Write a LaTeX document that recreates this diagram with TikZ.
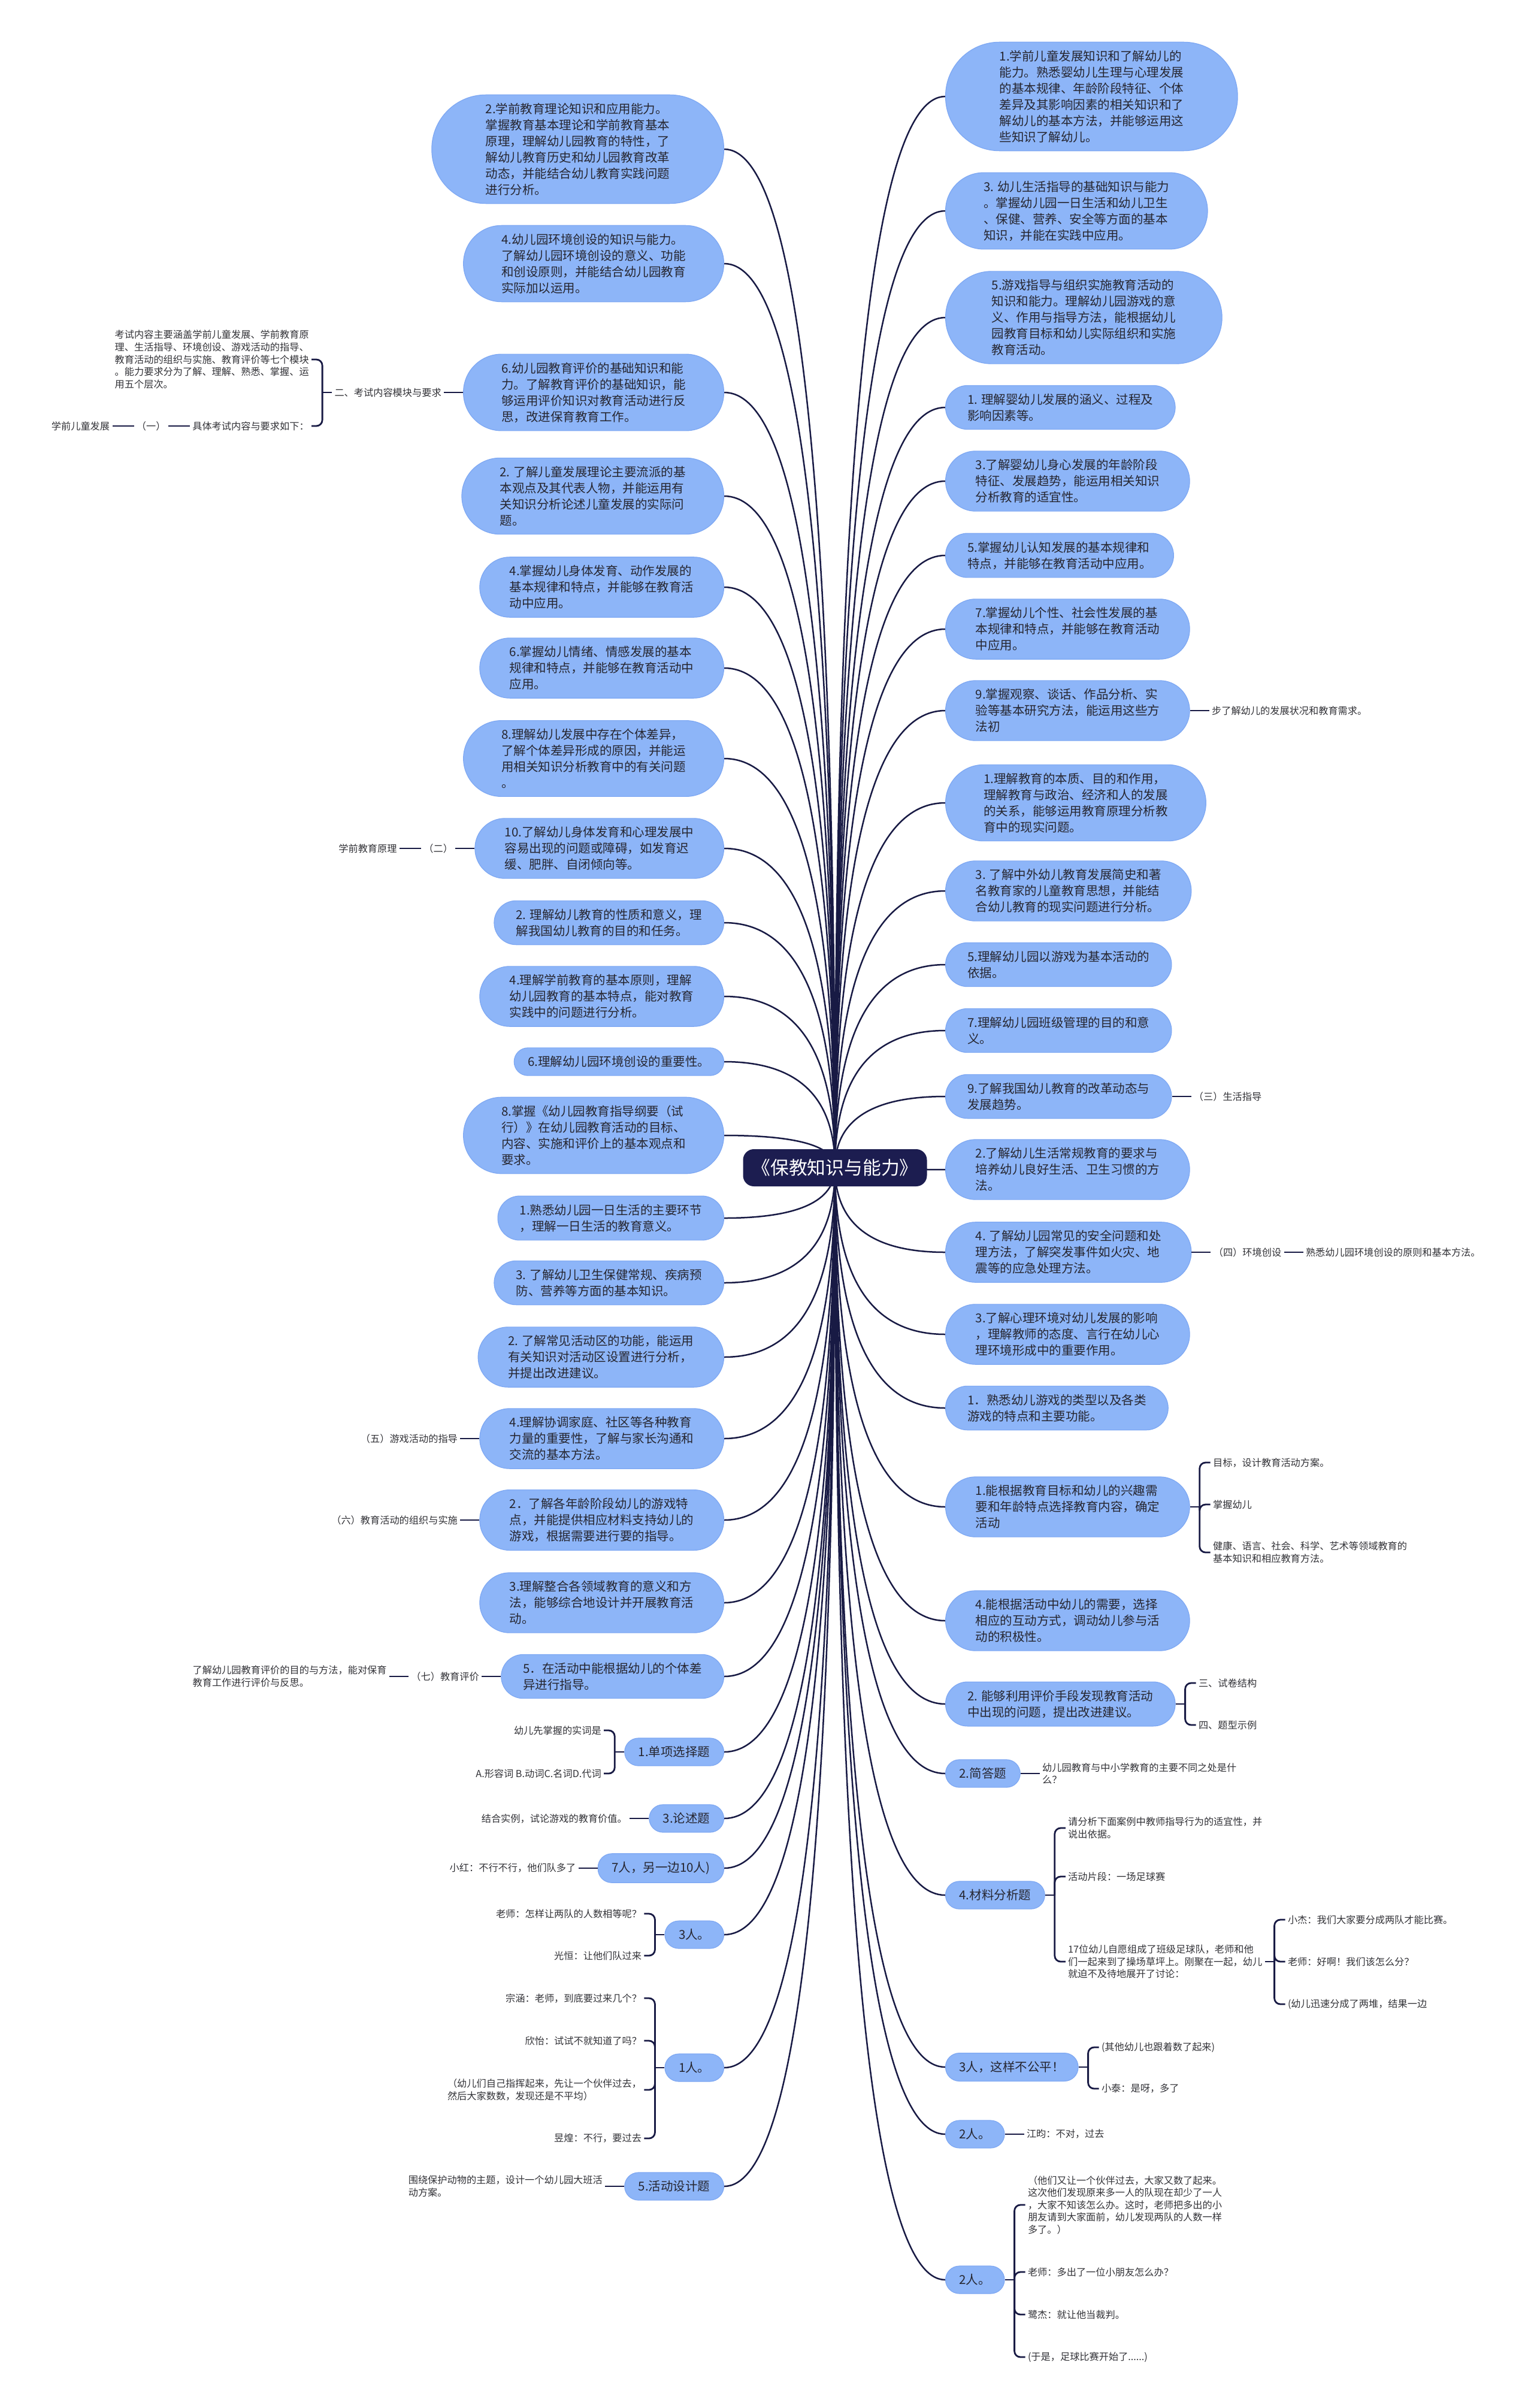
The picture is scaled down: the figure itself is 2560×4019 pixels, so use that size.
\documentclass[tikz,border=0pt]{standalone}
\usepackage{fontspec}
\setmainfont{Noto Sans CJK SC}
\usetikzlibrary{positioning,calc,backgrounds}

\definecolor{pillfill}{RGB}{141,181,248}
\definecolor{pilledge}{RGB}{126,168,243}
\definecolor{rootfill}{RGB}{28,29,80}
\definecolor{wire}{RGB}{24,26,68}
\definecolor{boxtext}{RGB}{38,38,48}
\definecolor{leaftext}{RGB}{50,50,55}

\newcommand\pillfont{\fontsize{10.25}{13.5}\selectfont}
\newcommand\leaffont{\fontsize{8.1}{10.3}\selectfont}
\newcommand\rootfont{\fontsize{15.4}{18}\selectfont}

% fork from a box to several children (bracket)
\newcommand\rfork[2]{%
  \draw[twig] (#1.east) -- ([xshift=8pt]#1.east);
  \foreach \ch in {#2}{\draw[twig, rounded corners=5pt] ([xshift=8pt]#1.east) |- (\ch.west);}}
\newcommand\lfork[2]{%
  \draw[twig] (#1.west) -- ([xshift=-8pt]#1.west);
  \foreach \ch in {#2}{\draw[twig, rounded corners=5pt] ([xshift=-8pt]#1.west) |- (\ch.east);}}

\tikzset{
  pill/.style={draw=pilledge, line width=0.6pt, fill=pillfill, text=boxtext,
    align=left, font=\pillfont, rounded corners=#1, inner xsep=#1, inner ysep=6.8pt},
  p1/.style={pill=11.5pt}, p2/.style={pill=18.3pt}, p3/.style={pill=25pt},
  p4/.style={pill=31.8pt}, p5/.style={pill=38.5pt}, p6/.style={pill=45pt},
  leaf/.style={font=\leaffont, text=leaftext, align=left, inner xsep=2pt, inner ysep=1pt},
  rootbox/.style={fill=rootfill, text=white, font=\rootfont, rounded corners=9pt,
    minimum width=153.5pt, minimum height=31pt, inner sep=0pt},
  trunk/.style={draw=wire, line width=1.25pt},
  twig/.style={draw=wire, line width=1.4pt},
}

\begin{document}
\begin{tikzpicture}[x=0.5pt, y=-0.5pt]

  \useasboundingbox (0,0) rectangle (2560,4019);
  \begin{scope}[on background layer]
    \fill[white] (0,0) rectangle (2560,4019);
  \end{scope}

  % ---------- centre ----------
  \node[rootbox] (root) at (1394,1949) {《保教知识与能力》};

  % ---------- right column ----------
  \node[p6, anchor=west] (r1) at (1578,161) {1.学前儿童发展知识和了解幼儿的\\能力。熟悉婴幼儿生理与心理发展\\的基本规律、年龄阶段特征、个体\\差异及其影响因素的相关知识和了\\解幼儿的基本方法，并能够运用这\\些知识了解幼儿。};
  \node[p4, anchor=west] (r2) at (1578,352) {3. 幼儿生活指导的基础知识与能力\\。掌握幼儿园一日生活和幼儿卫生\\、保健、营养、安全等方面的基本\\知识，并能在实践中应用。};
  \node[p5, anchor=west] (r3) at (1578,530) {5.游戏指导与组织实施教育活动的\\知识和能力。理解幼儿园游戏的意\\义、作用与指导方法，能根据幼儿\\园教育目标和幼儿实际组织和实施\\教育活动。};
  \node[p2, anchor=west] (r4) at (1578,680) {1. 理解婴幼儿发展的涵义、过程及\\影响因素等。};
  \node[p3, anchor=west] (r5) at (1578,803) {3.了解婴幼儿身心发展的年龄阶段\\特征、发展趋势，能运用相关知识\\分析教育的适宜性。};
  \node[p2, anchor=west] (r6) at (1578,927) {5.掌握幼儿认知发展的基本规律和\\特点，并能够在教育活动中应用。};
  \node[p3, anchor=west] (r7) at (1578,1050) {7.掌握幼儿个性、社会性发展的基\\本规律和特点，并能够在教育活动\\中应用。};
  \node[p3, anchor=west] (r8) at (1578,1186) {9.掌握观察、谈话、作品分析、实\\验等基本研究方法，能运用这些方\\法初};
  \node[p4, anchor=west] (r9) at (1578,1340) {1.理解教育的本质、目的和作用，\\理解教育与政治、经济和人的发展\\的关系，能够运用教育原理分析教\\育中的现实问题。};
  \node[p3, anchor=west] (r10) at (1578,1487) {3. 了解中外幼儿教育发展简史和著\\名教育家的儿童教育思想，并能结\\合幼儿教育的现实问题进行分析。};
  \node[p2, anchor=west] (r11) at (1578,1610) {5.理解幼儿园以游戏为基本活动的\\依据。};
  \node[p2, anchor=west] (r12) at (1578,1720) {7.理解幼儿园班级管理的目的和意\\义。};
  \node[p2, anchor=west] (r13) at (1578,1830) {9.了解我国幼儿教育的改革动态与\\发展趋势。};
  \node[p3, anchor=west] (r14) at (1578,1952) {2.了解幼儿生活常规教育的要求与\\培养幼儿良好生活、卫生习惯的方\\法。};
  \node[p3, anchor=west] (r15) at (1578,2090) {4. 了解幼儿园常见的安全问题和处\\理方法，了解突发事件如火灾、地\\震等的应急处理方法。};
  \node[p3, anchor=west] (r16) at (1578,2227) {3.了解心理环境对幼儿发展的影响\\，理解教师的态度、言行在幼儿心\\理环境形成中的重要作用。};
  \node[p2, anchor=west] (r17) at (1578,2350) {1．熟悉幼儿游戏的类型以及各类\\游戏的特点和主要功能。};
  \node[p3, anchor=west] (r18) at (1578,2515) {1.能根据教育目标和幼儿的兴趣需\\要和年龄特点选择教育内容，确定\\活动};
  \node[p3, anchor=west] (r19) at (1578,2705) {4.能根据活动中幼儿的需要，选择\\相应的互动方式，调动幼儿参与活\\动的积极性。};
  \node[p2, anchor=west] (r20) at (1578,2844) {2. 能够利用评价手段发现教育活动\\中出现的问题，提出改进建议。};
  \node[p1, anchor=west] (r21) at (1578,2960) {2.简答题};
  \node[p1, anchor=west] (r22) at (1578,3163) {4.材料分析题};
  \node[p1, anchor=west] (r23) at (1578,3450) {3人，这样不公平！};
  \node[p1, anchor=west] (r24) at (1578,3562) {2人。};
  \node[p1, anchor=west] (r25) at (1578,3805) {2人。};

  % ---------- left column ----------
  \node[p6, anchor=east] (l1) at (1209,249) {2.学前教育理论知识和应用能力。\\掌握教育基本理论和学前教育基本\\原理，理解幼儿园教育的特性，了\\解幼儿教育历史和幼儿园教育改革\\动态，并能结合幼儿教育实践问题\\进行分析。};
  \node[p4, anchor=east] (l2) at (1209,440) {4.幼儿园环境创设的知识与能力。\\了解幼儿园环境创设的意义、功能\\和创设原则，并能结合幼儿园教育\\实际加以运用。};
  \node[p4, anchor=east] (l3) at (1209,655) {6.幼儿园教育评价的基础知识和能\\力。了解教育评价的基础知识，能\\够运用评价知识对教育活动进行反\\思，改进保育教育工作。};
  \node[p4, anchor=east] (l4) at (1209,828) {2. 了解儿童发展理论主要流派的基\\本观点及其代表人物，并能运用有\\关知识分析论述儿童发展的实际问\\题。};
  \node[p3, anchor=east] (l5) at (1209,980) {4.掌握幼儿身体发育、动作发展的\\基本规律和特点，并能够在教育活\\动中应用。};
  \node[p3, anchor=east] (l6) at (1209,1115) {6.掌握幼儿情绪、情感发展的基本\\规律和特点，并能够在教育活动中\\应用。};
  \node[p4, anchor=east] (l7) at (1209,1266) {8.理解幼儿发展中存在个体差异，\\了解个体差异形成的原因，并能运\\用相关知识分析教育中的有关问题\\。};
  \node[p3, anchor=east] (l8) at (1209,1416) {10.了解幼儿身体发育和心理发展中\\容易出现的问题或障碍，如发育迟\\缓、肥胖、自闭倾向等。};
  \node[p2, anchor=east] (l9) at (1209,1540) {2. 理解幼儿教育的性质和意义，理\\解我国幼儿教育的目的和任务。};
  \node[p3, anchor=east] (l10) at (1209,1663) {4.理解学前教育的基本原则，理解\\幼儿园教育的基本特点，能对教育\\实践中的问题进行分析。};
  \node[p1, anchor=east] (l11) at (1209,1772) {6.理解幼儿园环境创设的重要性。};
  \node[p4, anchor=east] (l12) at (1209,1895) {8.掌握《幼儿园教育指导纲要（试\\行）》在幼儿园教育活动的目标、\\内容、实施和评价上的基本观点和\\要求。};
  \node[p2, anchor=east] (l13) at (1209,2033) {1.熟悉幼儿园一日生活的主要环节\\，理解一日生活的教育意义。};
  \node[p2, anchor=east] (l14) at (1209,2141) {3. 了解幼儿卫生保健常规、疾病预\\防、营养等方面的基本知识。};
  \node[p3, anchor=east] (l15) at (1209,2265) {2. 了解常见活动区的功能，能运用\\有关知识对活动区设置进行分析，\\并提出改进建议。};
  \node[p3, anchor=east] (l16) at (1209,2401) {4.理解协调家庭、社区等各种教育\\力量的重要性，了解与家长沟通和\\交流的基本方法。};
  \node[p3, anchor=east] (l17) at (1209,2537) {2．了解各年龄阶段幼儿的游戏特\\点，并能提供相应材料支持幼儿的\\游戏，根据需要进行要的指导。};
  \node[p3, anchor=east] (l18) at (1209,2675) {3.理解整合各领域教育的意义和方\\法，能够综合地设计并开展教育活\\动。};
  \node[p2, anchor=east] (l19) at (1209,2798) {5．在活动中能根据幼儿的个体差\\异进行指导。};
  \node[p1, anchor=east] (l20) at (1209,2924) {1.单项选择题};
  \node[p1, anchor=east] (l21) at (1209,3035) {3.论述题};
  \node[p1, anchor=east] (l22) at (1209,3118) {7人，另一边10人)};
  \node[p1, anchor=east] (l23) at (1209,3229) {3人。};
  \node[p1, anchor=east] (l24) at (1209,3451) {1人。};
  \node[p1, anchor=east] (l25) at (1209,3649) {5.活动设计题};

  % ---------- right leaves ----------
  \node[leaf, right=16pt of r8] (r8a) {步了解幼儿的发展状况和教育需求。};
  \node[leaf, right=16pt of r13] (r13a) {（三）生活指导};
  \node[leaf, right=16pt of r15] (r15a) {（四）环境创设};
  \node[leaf, right=16pt of r15a] (r15b) {熟悉幼儿园环境创设的原则和基本方法。};
  \node[leaf, anchor=west] (r18a) at ([shift={(34,-74)}]r18.east) {目标，设计教育活动方案。};
  \node[leaf, anchor=west] (r18b) at ([shift={(34,-4)}]r18.east) {掌握幼儿};
  \node[leaf, anchor=west] (r18c) at ([shift={(34,76)}]r18.east) {健康、语言、社会、科学、艺术等领域教育的\\基本知识和相应教育方法。};
  \node[leaf, anchor=west] (r20a) at ([shift={(34,-35)}]r20.east) {三、试卷结构};
  \node[leaf, anchor=west] (r20b) at ([shift={(34,35)}]r20.east) {四、题型示例};
  \node[leaf, right=16pt of r21] (r21a) {幼儿园教育与中小学教育的主要不同之处是什\\么？};
  \node[leaf, anchor=west] (r22a) at ([shift={(34,-112)}]r22.east) {请分析下面案例中教师指导行为的适宜性，并\\说出依据。};
  \node[leaf, anchor=west] (r22b) at ([shift={(34,-31)}]r22.east) {活动片段：一场足球赛};
  \node[leaf, anchor=west] (r22c) at ([shift={(34,111)}]r22.east) {17位幼儿自愿组成了班级足球队，老师和他\\们一起来到了操场草坪上。刚聚在一起，幼儿\\就迫不及待地展开了讨论：};
  \node[leaf, anchor=west] (r22d) at ([shift={(34,-70)}]r22c.east) {小杰：我们大家要分成两队才能比赛。};
  \node[leaf, anchor=west] (r22e) at ([shift={(34,0)}]r22c.east) {老师：好啊！我们该怎么分？};
  \node[leaf, anchor=west] (r22f) at ([shift={(34,71)}]r22c.east) {(幼儿迅速分成了两堆，结果一边};
  \node[leaf, anchor=west] (r23a) at ([shift={(34,-33)}]r23.east) {(其他幼儿也跟着数了起来)};
  \node[leaf, anchor=west] (r23b) at ([shift={(34,36)}]r23.east) {小泰：是呀，多了};
  \node[leaf, right=16pt of r24] (r24a) {江昀：不对，过去};
  \node[leaf, anchor=west] (r25a) at ([shift={(34,-125)}]r25.east) {（他们又让一个伙伴过去，大家又数了起来。\\这次他们发现原来多一人的队现在却少了一人\\，大家不知该怎么办。这时，老师把多出的小\\朋友请到大家面前，幼儿发现两队的人数一样\\多了。）};
  \node[leaf, anchor=west] (r25b) at ([shift={(34,-13)}]r25.east) {老师：多出了一位小朋友怎么办？};
  \node[leaf, anchor=west] (r25c) at ([shift={(34,58)}]r25.east) {鹭杰：就让他当裁判。};
  \node[leaf, anchor=west] (r25d) at ([shift={(34,129)}]r25.east) {(于是，足球比赛开始了......)};

  % ---------- left leaves ----------
  \node[leaf, left=16pt of l3] (l3a) {二、考试内容模块与要求};
  \node[leaf, anchor=east] (l3b) at ([shift={(-34,-55)}]l3a.west) {考试内容主要涵盖学前儿童发展、学前教育原\\理、生活指导、环境创设、游戏活动的指导、\\教育活动的组织与实施、教育评价等七个模块\\。能力要求分为了解、理解、熟悉、掌握、运\\用五个层次。};
  \node[leaf, anchor=east] (l3c) at ([shift={(-34,56)}]l3a.west) {具体考试内容与要求如下：};
  \node[leaf, left=18pt of l3c] (l3d) {（一）};
  \node[leaf, left=18pt of l3d] (l3e) {学前儿童发展};
  \node[leaf, left=16pt of l8] (l8a) {（二）};
  \node[leaf, left=18pt of l8a] (l8b) {学前教育原理};
  \node[leaf, left=16pt of l16] (l16a) {（五）游戏活动的指导};
  \node[leaf, left=16pt of l17] (l17a) {（六）教育活动的组织与实施};
  \node[leaf, left=16pt of l19] (l19a) {（七）教育评价};
  \node[leaf, left=16pt of l19a] (l19b) {了解幼儿园教育评价的目的与方法，能对保育\\教育工作进行评价与反思。};
  \node[leaf, anchor=east] (l20a) at ([shift={(-34,-36)}]l20.west) {幼儿先掌握的实词是};
  \node[leaf, anchor=east] (l20b) at ([shift={(-34,36)}]l20.west) {A.形容词 B.动词C.名词D.代词};
  \node[leaf, left=16pt of l21] (l21a) {结合实例，试论游戏的教育价值。};
  \node[leaf, left=16pt of l22] (l22a) {小红：不行不行，他们队多了};
  \node[leaf, anchor=east] (l23a) at ([shift={(-34,-35)}]l23.west) {老师：怎样让两队的人数相等呢？};
  \node[leaf, anchor=east] (l23b) at ([shift={(-34,35)}]l23.west) {光恒：让他们队过来};
  \node[leaf, anchor=east] (l24a) at ([shift={(-34,-116)}]l24.west) {宗涵：老师，到底要过来几个？};
  \node[leaf, anchor=east] (l24b) at ([shift={(-34,-45)}]l24.west) {欣怡：试试不就知道了吗？};
  \node[leaf, anchor=east] (l24c) at ([shift={(-34,37)}]l24.west) {（幼儿们自己指挥起来，先让一个伙伴过去，\\然后大家数数，发现还是不平均）};
  \node[leaf, anchor=east] (l24d) at ([shift={(-34,118)}]l24.west) {昱煌：不行，要过去};
  \node[leaf, left=16pt of l25] (l25a) {围绕保护动物的主题，设计一个幼儿园大班活\\动方案。};

  % ---------- links from the centre ----------
  \begin{scope}[on background layer]
    \foreach \i in {1,...,25}{
      \draw[trunk] (root.center) .. controls ($(root.center)!2/3!(root.center|-r\i.west)$) and ($(r\i.west)!2/3!(root.center|-r\i.west)$) .. (r\i.west);
      \draw[trunk] (root.center) .. controls ($(root.center)!2/3!(root.center|-l\i.east)$) and ($(l\i.east)!2/3!(root.center|-l\i.east)$) .. (l\i.east);
    }
  \end{scope}

  % ---------- short links ----------
  \draw[twig] (r8.east) -- (r8a.west);
  \draw[twig] (r13.east) -- (r13a.west);
  \draw[twig] (r15.east) -- (r15a.west);
  \draw[twig] (r15a.east) -- (r15b.west);
  \draw[twig] (r21.east) -- (r21a.west);
  \draw[twig] (r24.east) -- (r24a.west);
  \rfork{r18}{r18a,r18b,r18c}
  \rfork{r20}{r20a,r20b}
  \rfork{r22}{r22a,r22b,r22c}
  \rfork{r22c}{r22d,r22e,r22f}
  \rfork{r23}{r23a,r23b}
  \rfork{r25}{r25a,r25b,r25c,r25d}

  \draw[twig] (l3.west) -- (l3a.east);
  \draw[twig] (l3c.west) -- (l3d.east);
  \draw[twig] (l3d.west) -- (l3e.east);
  \draw[twig] (l8.west) -- (l8a.east);
  \draw[twig] (l8a.west) -- (l8b.east);
  \draw[twig] (l16.west) -- (l16a.east);
  \draw[twig] (l17.west) -- (l17a.east);
  \draw[twig] (l19.west) -- (l19a.east);
  \draw[twig] (l19a.west) -- (l19b.east);
  \draw[twig] (l21.west) -- (l21a.east);
  \draw[twig] (l22.west) -- (l22a.east);
  \draw[twig] (l25.west) -- (l25a.east);
  \lfork{l3a}{l3b,l3c}
  \lfork{l20}{l20a,l20b}
  \lfork{l23}{l23a,l23b}
  \lfork{l24}{l24a,l24b,l24c,l24d}

\end{tikzpicture}
\end{document}
